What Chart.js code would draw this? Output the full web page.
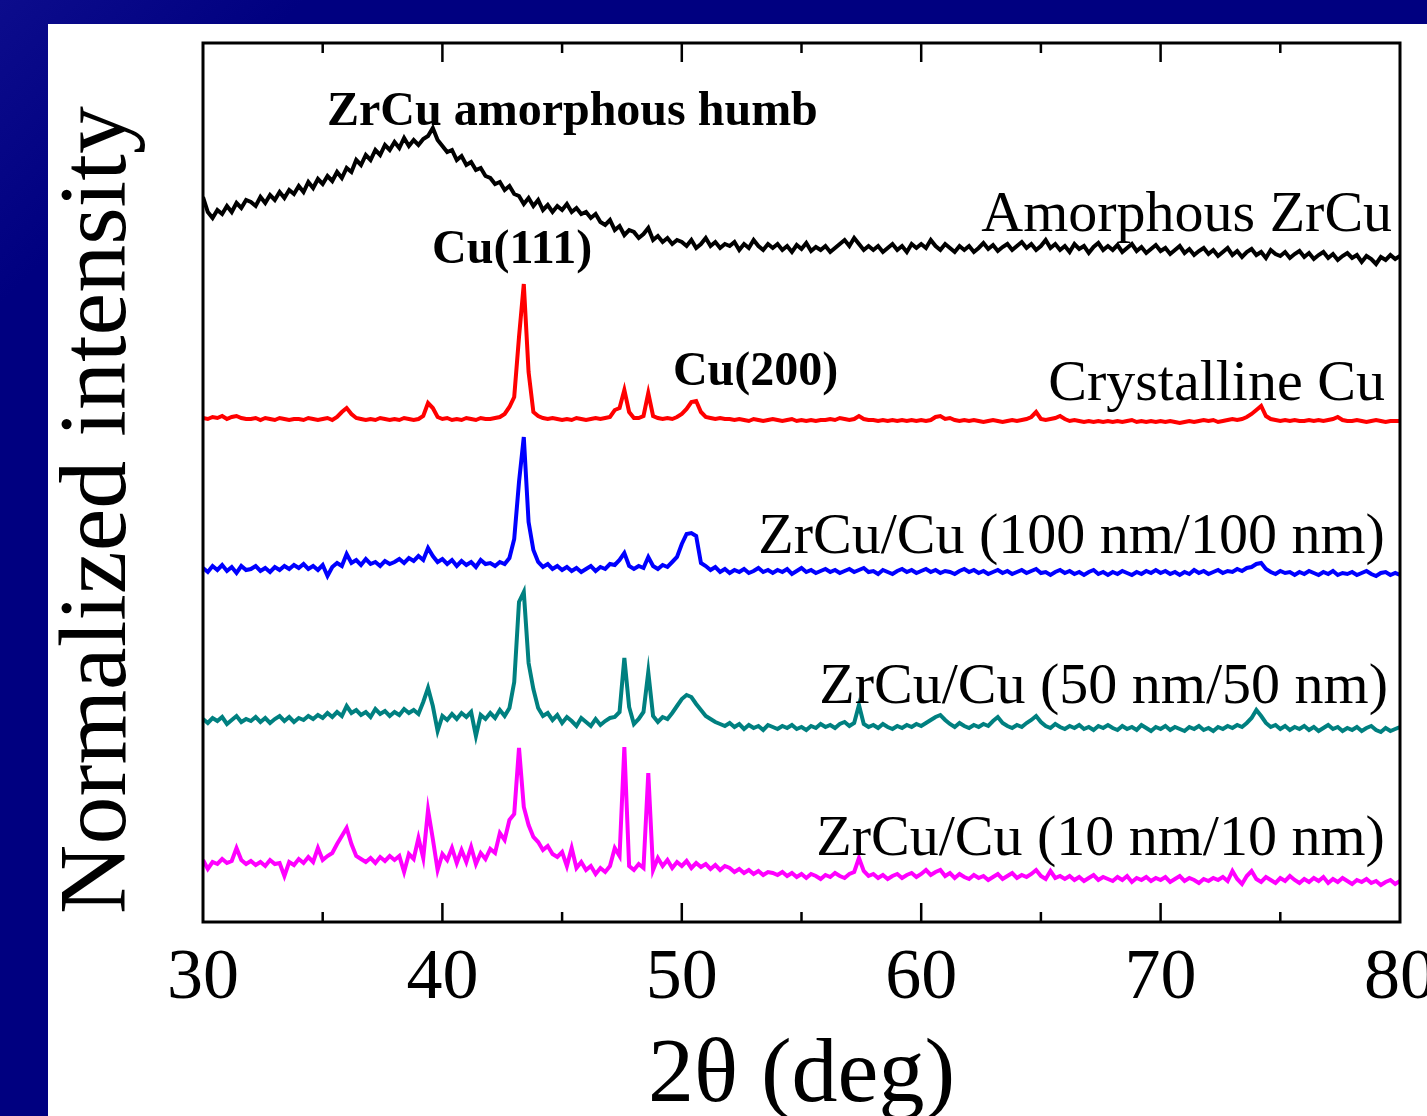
<!DOCTYPE html>
<html>
<head>
<meta charset="utf-8">
<title>XRD ZrCu/Cu</title>
<script src="https://cdn.jsdelivr.net/npm/chart.js@4.4.0/dist/chart.umd.min.js"></script>
<style>
  html, body { margin: 0; padding: 0; }
  body {
    width: 1427px; height: 1116px; overflow: hidden;
    background: linear-gradient(135deg, #0c0c8c 0%, #000080 12%, #000080 100%);
    position: relative;
  }
  #panel { position: absolute; left: 48px; top: 24px; width: 1379px; height: 1092px; background: #fff; }
</style>
</head>
<body>
<div id="panel"><canvas id="xrdChart" width="1379" height="1092"></canvas></div>
<script>
// ---- measurement grid: 2theta from 30 to 80 deg, step 0.2 deg ----
const twoThetaStart = 30, twoThetaStep = 0.2, nPoints = 251;
const twoTheta = Array.from({ length: nPoints }, (_, i) => +(twoThetaStart + i * twoThetaStep).toFixed(1));

const xTicks = [30, 40, 50, 60, 70, 80];
const xMinorTicks = [35, 45, 55, 65, 75];

// ---- normalized intensity (stacked, a.u.), one row = 2 deg ----
const amorphousZrCu = [
  72.5, 71.0, 70.4, 71.2, 70.8, 71.6, 71.0, 71.9, 71.4, 72.2,
  72.0, 71.6, 72.5, 71.9, 72.7, 72.2, 73.0, 72.4, 73.2, 72.8,
  73.6, 73.0, 74.0, 73.4, 74.3, 73.8, 74.6, 74.1, 75.0, 74.4,
  75.4, 75.0, 76.2, 75.7, 76.7, 76.2, 77.2, 76.7, 77.7, 77.2,
  78.0, 77.4, 78.4, 77.6, 78.2, 77.7, 78.3, 78.6, 79.4, 78.2,
  77.6, 77.0, 77.2, 76.2, 76.6, 75.7, 76.0, 75.2, 75.4, 74.6,
  74.4, 73.8, 74.0, 73.2, 73.6, 72.8, 72.6, 71.8, 72.4, 71.6,
  72.2, 71.2, 71.7, 71.0, 71.6, 71.2, 71.8, 71.0, 71.4, 70.8,
  71.0, 70.4, 70.8, 70.0, 69.7, 70.2, 69.2, 69.6, 68.7, 69.2,
  69.0, 68.4, 68.8, 69.4, 68.2, 68.6, 68.0, 68.4, 67.8, 68.2,
  68.0, 67.6, 68.2, 67.4, 67.8, 68.4, 67.6, 68.0, 67.4, 67.8,
  67.6, 68.0, 67.2, 67.8, 67.4, 68.2, 67.6, 67.2, 67.8, 67.4,
  67.8, 67.2, 67.6, 67.0, 67.7, 67.3, 67.9, 67.1, 67.5, 67.2,
  67.6, 67.0, 67.4, 67.8, 68.2, 67.6, 68.4, 67.8, 67.2, 67.6,
  67.2, 67.6, 67.0, 67.4, 67.8, 67.2, 67.6, 67.0, 67.8, 67.4,
  67.8, 67.4, 68.2, 67.6, 67.2, 67.8, 67.4, 67.0, 67.6, 67.2,
  67.6, 67.0, 67.4, 67.9, 67.3, 67.7, 67.1, 67.5, 67.8, 67.2,
  67.6, 68.0, 67.4, 67.8, 67.2, 67.6, 68.2, 67.4, 67.8, 67.2,
  67.6, 67.0, 67.8, 67.3, 67.6, 66.9, 67.5, 67.9, 67.2, 67.6,
  67.2, 67.7, 67.0, 67.4, 67.8, 67.1, 67.5, 66.9, 67.3, 67.7,
  67.1, 67.4, 66.8, 67.2, 67.6, 66.9, 67.3, 66.7, 67.1, 67.4,
  66.8, 67.2, 66.6, 67.0, 67.4, 66.7, 67.1, 66.5, 67.0, 67.3,
  66.7, 67.0, 66.4, 67.2, 66.8, 66.6, 67.0, 66.4, 66.8, 67.1,
  66.5, 66.9, 66.3, 66.7, 67.0, 66.4, 66.8, 66.2, 66.6, 66.9,
  66.4, 66.7, 66.0, 66.6, 66.3, 65.8, 66.5, 66.2, 66.7, 66.3,
  66.6
];

const crystallineCu = [
  50.4, 50.3, 50.5, 50.4, 50.6, 50.3, 50.5, 50.6, 50.4, 50.3,
  50.3, 50.4, 50.2, 50.4, 50.3, 50.2, 50.4, 50.3, 50.2, 50.3,
  50.3, 50.2, 50.4, 50.3, 50.2, 50.3, 50.4, 50.2, 50.5, 51.0,
  51.4, 50.8, 50.4, 50.3, 50.2, 50.3, 50.2, 50.4, 50.3, 50.2,
  50.3, 50.2, 50.4, 50.3, 50.2, 50.3, 50.6, 51.9, 51.4, 50.5,
  50.3, 50.4, 50.2, 50.3, 50.2, 50.4, 50.3, 50.2, 50.4, 50.3,
  50.3, 50.4, 50.5, 50.8, 51.5, 52.5, 58.5, 63.8, 55.0, 51.0,
  50.6, 50.4, 50.3, 50.4, 50.3, 50.2, 50.3, 50.2, 50.4, 50.3,
  50.2, 50.3, 50.4, 50.3, 50.4, 50.5, 51.2, 51.4, 53.2, 51.0,
  50.4, 50.4, 50.6, 52.9, 50.6, 50.4, 50.3, 50.4, 50.3, 50.5,
  50.8, 51.3, 52.0, 52.1, 51.0, 50.5, 50.4, 50.3, 50.4, 50.3,
  50.3, 50.2, 50.3, 50.2, 50.1, 50.3, 50.2, 50.1, 50.2, 50.3,
  50.2, 50.1, 50.2, 50.3, 50.1, 50.2, 50.1, 50.2, 50.1, 50.2,
  50.2, 50.3, 50.2, 50.4, 50.3, 50.2, 50.3, 50.6, 50.3, 50.2,
  50.2, 50.1, 50.2, 50.1, 50.2, 50.1, 50.2, 50.1, 50.2, 50.1,
  50.2, 50.1, 50.2, 50.5, 50.6, 50.3, 50.4, 50.2, 50.1, 50.2,
  50.1, 50.2, 50.1, 50.0, 50.1, 50.2, 50.1, 50.0, 50.1, 50.2,
  50.1, 50.2, 50.3, 50.5, 51.0, 50.3, 50.2, 50.3, 50.4, 50.6,
  50.3, 50.1, 50.2, 50.1, 50.0, 50.1, 50.0, 50.1, 50.0, 50.1,
  50.0, 50.1, 50.0, 50.1, 50.2, 50.0, 50.1, 50.0, 50.1, 50.0,
  50.1, 50.0, 50.1, 50.0, 49.9, 50.0, 50.1, 50.0, 50.1, 50.2,
  50.1, 50.2, 50.0, 50.1, 50.2, 50.3, 50.2, 50.3, 50.5, 50.8,
  51.2, 51.6, 50.6, 50.3, 50.2, 50.1, 50.2, 50.1, 50.2, 50.1,
  50.1, 50.2, 50.1, 50.2, 50.1, 50.2, 50.3, 50.5, 50.2, 50.1,
  50.1, 50.2, 50.1, 50.0, 50.1, 50.2, 50.1, 50.0, 50.1, 50.1,
  50.1
];

const multilayer100 = [
  35.4, 35.0, 35.6, 35.2, 35.7, 35.1, 35.5, 34.9, 35.6, 35.2,
  35.3, 35.6, 35.1, 35.4, 35.0, 35.5, 35.2, 35.6, 35.3, 35.7,
  35.4, 35.8, 35.3, 35.6, 35.2, 35.7, 34.6, 35.5, 35.9, 35.6,
  36.8, 35.9, 36.2, 35.7, 36.3, 35.8, 36.0, 35.6, 36.1, 35.8,
  36.0, 36.3, 35.9, 36.4, 36.1, 36.6, 36.2, 37.4, 36.6, 36.0,
  36.3, 35.8, 36.2, 35.6, 36.1, 35.7, 36.0, 35.5, 36.2, 35.8,
  35.9, 35.6, 36.0, 35.8, 36.4, 38.3, 44.0, 48.5, 40.0, 37.2,
  36.0, 35.5, 35.8, 35.3, 35.6, 35.2, 35.5, 35.1, 35.4, 35.0,
  35.3, 35.6, 35.1, 35.5, 35.3, 35.8, 35.7, 36.2, 36.9, 35.6,
  35.3, 35.6, 35.4, 36.5, 35.6, 35.3, 35.7, 35.5, 36.0, 36.5,
  37.8, 38.8, 38.9, 38.6, 35.9, 35.6, 35.2, 35.5, 35.0, 35.3,
  34.9, 35.2, 35.0, 35.3, 34.9, 35.1, 35.4, 35.0, 35.2, 34.9,
  35.2, 35.0, 35.3, 34.8, 35.1, 35.4, 35.0, 35.2, 34.9, 35.1,
  35.3, 35.0, 35.2, 34.9, 35.1, 35.3, 35.0, 35.2, 35.4, 35.0,
  35.1, 34.8, 35.2, 35.0, 34.8, 35.1, 35.3, 35.0, 35.2, 34.9,
  35.1, 35.3, 35.0, 35.2, 34.9, 35.1, 35.0, 34.8, 35.1, 35.3,
  35.0, 35.2, 34.9, 35.1, 34.8, 35.0, 35.2, 34.9, 35.1, 34.8,
  35.0, 35.2, 34.9, 35.1, 35.3, 34.9, 35.0, 34.7, 35.0, 35.2,
  34.9, 35.1, 34.8, 35.0, 34.7, 35.0, 35.2, 34.8, 35.0, 34.7,
  35.0, 34.8, 35.1, 34.9, 34.7, 35.0, 34.8, 35.1, 34.9, 35.2,
  34.9, 35.1, 34.8, 35.0, 34.7, 35.0, 34.8, 35.2, 34.9, 35.1,
  34.8, 35.0, 35.2, 34.9, 35.1, 35.0, 35.3, 35.1, 35.4, 35.5,
  35.8, 35.9, 35.3, 35.0, 34.8, 35.1, 34.9, 35.0, 34.7, 35.0,
  34.8, 35.1, 34.9, 34.7, 35.0, 34.8, 35.1, 34.7, 34.9, 34.8,
  35.0, 34.7, 34.9, 35.1, 34.8, 34.6, 34.9, 35.0, 34.7, 34.9,
  34.7
];

const multilayer50 = [
  20.3, 19.9, 20.4, 20.1, 20.5, 19.8, 20.2, 20.6, 20.0, 20.3,
  20.1, 20.5, 20.0, 20.4, 19.9, 20.3, 20.6, 20.1, 20.5, 20.0,
  20.4, 20.2, 20.6, 20.3, 20.7, 20.4, 20.9, 20.5, 21.0, 20.6,
  21.6, 20.9, 21.2, 20.7, 21.0, 20.5, 21.3, 20.8, 21.1, 20.6,
  21.0, 20.7, 21.3, 20.9, 21.2, 20.8, 22.0, 23.4, 21.6, 19.1,
  20.6, 20.2, 20.8, 20.3, 20.9, 20.5, 21.0, 18.6, 20.7, 20.3,
  20.9, 20.4, 21.2, 20.6, 21.4, 24.0, 32.0, 33.0, 25.9, 23.3,
  21.4, 20.6, 20.9, 20.2, 20.7, 19.9, 20.5, 20.1, 19.6, 20.4,
  20.0, 19.6, 20.3, 19.7, 20.1, 20.4, 20.5, 21.0, 26.4, 21.5,
  19.8, 20.3, 21.0, 25.0, 20.6, 20.0, 20.5, 20.3, 20.9, 21.6,
  22.3, 22.7, 22.5, 21.8, 21.2, 20.6, 20.3, 20.0, 19.8, 19.6,
  19.9, 19.5, 19.8, 19.3, 19.7, 19.4, 19.6, 19.2, 19.7, 19.5,
  19.3, 19.6, 19.4, 19.7, 19.3, 19.5, 19.2, 19.6, 19.4, 19.8,
  19.5, 19.7, 19.4, 19.8, 20.0, 19.6, 19.9, 21.7, 19.8, 19.5,
  19.7, 19.4, 19.8, 19.5, 19.3, 19.6, 19.4, 19.7, 19.5, 19.8,
  19.6, 19.9, 20.2, 20.5, 20.7, 20.2, 19.8, 19.5, 19.9, 19.6,
  19.4, 19.7, 19.5, 19.8, 19.6, 20.1, 20.5, 19.9, 19.6, 19.4,
  19.7, 19.5, 19.9, 20.2, 20.6, 20.0, 19.6, 19.4, 19.8, 19.5,
  19.3, 19.6, 19.4, 19.7, 19.3, 19.5, 19.2, 19.6, 19.4, 19.7,
  19.4, 19.2, 19.6, 19.3, 19.5, 19.2, 19.7, 19.4, 19.1, 19.5,
  19.3, 19.6, 19.2, 19.5, 19.3, 19.1, 19.5, 19.3, 19.6, 19.2,
  19.4, 19.1, 19.5, 19.3, 19.6, 19.4, 19.7, 19.5, 19.9, 20.4,
  21.2, 20.6, 19.9, 19.5, 19.7, 19.3, 19.6, 19.2, 19.5, 19.3,
  19.6, 19.2, 19.5, 19.1, 19.4, 19.7, 19.3, 19.5, 19.1, 19.4,
  19.2, 19.5, 19.1, 19.4, 19.6, 19.2, 19.0, 19.4, 19.1, 19.3,
  19.5
];

const multilayer10 = [
  6.2, 5.3, 6.0, 5.8, 6.3, 5.9, 6.1, 7.4, 6.2, 5.8,
  6.1, 5.7, 6.0, 5.6, 6.2, 5.8, 5.9, 4.6, 6.0, 5.7,
  6.3, 5.9, 6.5, 6.0, 7.4, 6.2, 6.6, 6.9, 7.8, 8.6,
  9.4, 7.8, 6.6, 6.3, 6.0, 6.4, 5.9, 6.5, 6.1, 6.6,
  6.2, 6.6, 5.0, 6.8, 6.3, 8.4, 6.4, 11.2, 8.3, 5.2,
  6.8, 6.2, 7.4, 5.9, 7.2, 6.0, 7.5, 5.8, 6.9, 6.3,
  7.3, 6.9, 8.9, 8.2, 10.2, 10.8, 17.4, 11.5, 9.7, 8.5,
  8.0, 7.2, 7.6, 6.8, 6.5, 7.0, 5.6, 7.4, 5.4, 6.0,
  5.2, 5.6, 4.8, 5.4, 5.0, 5.6, 7.4, 6.6, 17.5, 5.6,
  5.2, 5.8, 5.4, 14.9, 5.2, 6.4, 5.6, 6.2, 5.4, 6.0,
  5.6, 6.1, 5.4, 5.9, 5.5, 5.8, 5.3, 5.7, 5.2, 5.6,
  5.4, 5.0, 5.3, 4.9, 5.2, 4.8, 5.1, 4.7, 5.0, 4.9,
  4.7, 5.0, 4.6, 4.9, 4.5, 4.8, 4.4, 4.8, 4.6, 4.3,
  4.7, 4.5, 4.9, 4.6, 4.4, 4.8, 5.0, 6.4, 5.1, 4.6,
  4.8, 4.4, 4.7, 4.3, 4.6, 4.8, 4.4, 4.7, 4.9, 4.5,
  4.8, 5.2, 4.7, 5.0, 5.2, 4.6, 4.9, 4.4, 4.8, 4.5,
  4.3, 4.7, 4.4, 4.6, 4.2, 4.5, 4.8, 4.3, 4.6, 4.9,
  4.4, 4.7, 4.5, 4.8, 5.2, 4.6, 4.3, 5.1, 4.4, 4.6,
  4.3, 4.6, 4.2, 4.5, 4.1, 4.4, 4.7, 4.2, 4.5, 4.3,
  4.1, 4.5, 4.2, 4.6, 4.0, 4.4, 4.2, 4.5, 4.1, 4.4,
  4.2, 4.5, 4.0, 4.3, 4.6, 4.1, 4.4, 4.2, 3.9, 4.3,
  4.1, 4.4, 4.2, 4.5, 4.1, 5.1, 4.3, 3.8, 4.6, 5.1,
  4.3, 4.0, 4.5, 4.2, 3.9, 4.4, 4.1, 4.6, 4.2, 3.9,
  4.3, 4.0, 4.4, 4.1, 4.5, 3.9, 4.3, 4.0, 4.4, 4.1,
  3.8, 4.2, 4.0, 4.3, 3.9, 4.1, 3.7, 4.0, 4.2, 3.8,
  4.1
];

const seriesNames = ["Amorphous ZrCu", "Crystalline Cu", "ZrCu/Cu (100 nm/100 nm)", "ZrCu/Cu (50 nm/50 nm)", "ZrCu/Cu (10 nm/10 nm)"];
const seriesColors = ["#000000", "#ff0000", "#0000ff", "#008080", "#ff00ff"];
const seriesValues = [amorphousZrCu, crystallineCu, multilayer100, multilayer50, multilayer10];

// ---- text on the plot, placed in data coordinates ----
const SERIF = "'Liberation Serif', 'Times New Roman', serif";
const plotNotes = [
  { text: "ZrCu amorphous humb", x: 35.18, y: 79.7, align: "left", font: "bold 48px " + SERIF },
  { text: "Cu(111)", x: 39.57, y: 65.9, align: "left", font: "bold 48px " + SERIF },
  { text: "Cu(200)", x: 49.63, y: 53.7, align: "left", font: "bold 48px " + SERIF },
  { text: seriesNames[0], x: 79.67, y: 69.1, align: "right", font: "58px " + SERIF },
  { text: seriesNames[1], x: 79.37, y: 52.2, align: "right", font: "58px " + SERIF },
  { text: seriesNames[2], x: 79.37, y: 36.9, align: "right", font: "58px " + SERIF },
  { text: seriesNames[3], x: 79.5, y: 21.9, align: "right", font: "58px " + SERIF },
  { text: seriesNames[4], x: 79.37, y: 6.7, align: "right", font: "58px " + SERIF }
];

// frame, inward ticks, notes and the vertical axis title
const decorations = {
  id: "decorations",
  afterDraw(chart) {
    const { ctx, chartArea: a, scales: { x, y } } = chart;
    ctx.save();
    ctx.strokeStyle = "#000";
    ctx.lineWidth = 3;
    ctx.strokeRect(a.left, a.top, a.right - a.left, a.bottom - a.top);

    ctx.lineWidth = 2.5;
    const drawTick = (v, len) => {
      const px = x.getPixelForValue(v);
      ctx.beginPath();
      ctx.moveTo(px, a.bottom); ctx.lineTo(px, a.bottom - len);
      ctx.moveTo(px, a.top); ctx.lineTo(px, a.top + len);
      ctx.stroke();
    };
    xTicks.slice(1, -1).forEach(v => drawTick(v, 19));
    xMinorTicks.forEach(v => drawTick(v, 10));

    ctx.fillStyle = "#000";
    ctx.textBaseline = "alphabetic";
    plotNotes.forEach(n => {
      ctx.font = n.font;
      ctx.textAlign = n.align;
      ctx.fillText(n.text, x.getPixelForValue(n.x), y.getPixelForValue(n.y));
    });

    ctx.translate(77, 486);
    ctx.rotate(-Math.PI / 2);
    ctx.font = "96px " + SERIF;
    ctx.textAlign = "center";
    ctx.fillText("Normalized intensity", 0, 0);
    ctx.restore();
  }
};

new Chart(document.getElementById("xrdChart"), {
  type: "line",
  data: {
    datasets: seriesValues.map((vals, k) => ({
      label: seriesNames[k],
      data: twoTheta.map((t, i) => ({ x: t, y: vals[i] })),
      borderColor: seriesColors[k],
      borderWidth: 4,
      pointRadius: 0,
      tension: 0,
      fill: false
    }))
  },
  options: {
    responsive: false,
    animation: false,
    layout: { padding: { top: 19, right: 27, left: 155, bottom: 0 } },
    plugins: { legend: { display: false }, tooltip: { enabled: false } },
    scales: {
      x: {
        type: "linear",
        min: 30,
        max: 80,
        afterBuildTicks: s => { s.ticks = xTicks.map(v => ({ value: v })); },
        afterFit: s => { s.height = 194; s.paddingLeft = 0; s.paddingRight = 0; },
        grid: { display: false, drawTicks: false },
        border: { display: false },
        ticks: {
          color: "#000",
          font: { family: SERIF, size: 72 },
          padding: 14,
          maxRotation: 0,
          autoSkip: false
        },
        title: {
          display: true,
          text: "2θ (deg)",
          color: "#000",
          font: { family: SERIF, size: 92, lineHeight: 1 },
          padding: { top: 0, bottom: -7 }
        }
      },
      y: { display: false, min: 0, max: 87.9 }
    }
  },
  plugins: [decorations]
});
</script>
</body>
</html>
